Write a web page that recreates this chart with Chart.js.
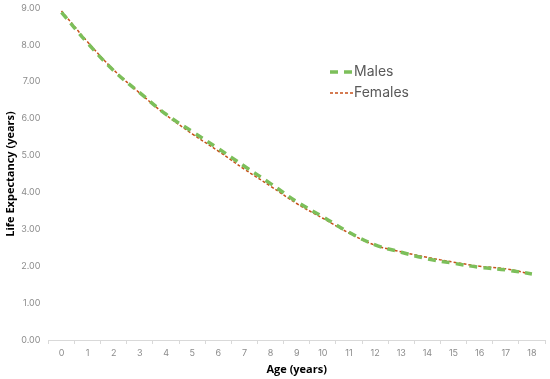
<!DOCTYPE html>
<html>
<head>
<meta charset="utf-8">
<script src="https://cdn.jsdelivr.net/npm/chart.js@4"></script>
<style>
  html, body { margin: 0; padding: 0; background: #fff; }
  #wrap { width: 550px; height: 379px; }
</style>
</head>
<body>
<div id="wrap"><canvas id="myChart"></canvas></div>
<script>
var ages = ["0","1","2","3","4","5","6","7","8","9","10","11","12","13","14","15","16","17","18"];
var males = [8.88, 8.05, 7.30, 6.70, 6.12, 5.65, 5.19, 4.71, 4.24, 3.75, 3.34, 2.92, 2.58, 2.38, 2.20, 2.08, 1.97, 1.90, 1.79];
var females = [8.92, 8.08, 7.32, 6.69, 6.10, 5.59, 5.12, 4.63, 4.17, 3.70, 3.30, 2.90, 2.57, 2.39, 2.24, 2.11, 2.00, 1.93, 1.78];

// legend drawn inside the plot, like the original
var insideLegend = {
    id: "insideLegend",
    afterDraw: function(chart) {
        var ctx = chart.ctx;
        var x = 330, y = 72;
        ctx.save();
        ctx.font = "14px Inter, 'Open Sans', sans-serif";
        ctx.textBaseline = "middle";
        chart.data.datasets.forEach(function(ds, i) {
            var yy = y + i * 21;
            ctx.strokeStyle = ds.borderColor;
            ctx.lineWidth = ds.borderWidth;
            ctx.setLineDash(ds.borderDash);
            ctx.beginPath();
            ctx.moveTo(x, yy);
            ctx.lineTo(x + 23, yy);
            ctx.stroke();
            ctx.setLineDash([]);
            ctx.fillStyle = "#595959";
            ctx.fillText(ds.label, x + 24, yy);
        });
        ctx.restore();
    }
};

new Chart("myChart", {
    type: "line",
    data: {
        labels: ages,
        datasets: [
            {
                label: "Males",
                data: males,
                borderColor: "#7cbf5a",
                borderWidth: 3.5,
                borderDash: [8, 6],
                pointRadius: 0,
                tension: 0.4,
                fill: false
            },
            {
                label: "Females",
                data: females,
                borderColor: "#c8501a",
                borderWidth: 1.5,
                borderDash: [3, 2],
                pointRadius: 0,
                tension: 0.4,
                fill: false
            }
        ]
    },
    options: {
        responsive: true,
        maintainAspectRatio: false,
        animation: false,
        layout: { padding: { top: 8, right: 5, left: 4, bottom: 3 } },
        plugins: {
            legend: { display: false },
            tooltip: { enabled: false }
        },
        scales: {
            x: {
                offset: true,
                grid: { display: true, drawOnChartArea: false, offset: true, color: "#d9d9d9", tickLength: 4 },
                border: { display: true, color: "#d9d9d9" },
                ticks: { color: "#8c8c8c", font: { size: 9, family: "Inter, 'Open Sans', sans-serif" }, padding: 4, maxRotation: 0 },
                title: { display: true, text: "Age (years)", color: "#000", font: { size: 11, weight: "bold", family: "'Open Sans', sans-serif" }, padding: { top: 0, bottom: 0 } }
            },
            y: {
                min: 0,
                max: 9,
                ticks: {
                    stepSize: 1,
                    color: "#8c8c8c",
                    font: { size: 9, family: "Inter, 'Open Sans', sans-serif" },
                    padding: 0,
                    callback: function(v) { return v.toFixed(2); }
                },
                grid: { display: false },
                border: { display: false },
                title: { display: true, text: "Life Expectancy (years)", color: "#000", font: { size: 11, weight: "bold", family: "'Open Sans', sans-serif" }, padding: { top: 0, bottom: 4 } }
            }
        }
    },
    plugins: [insideLegend]
});
</script>
</body>
</html>
